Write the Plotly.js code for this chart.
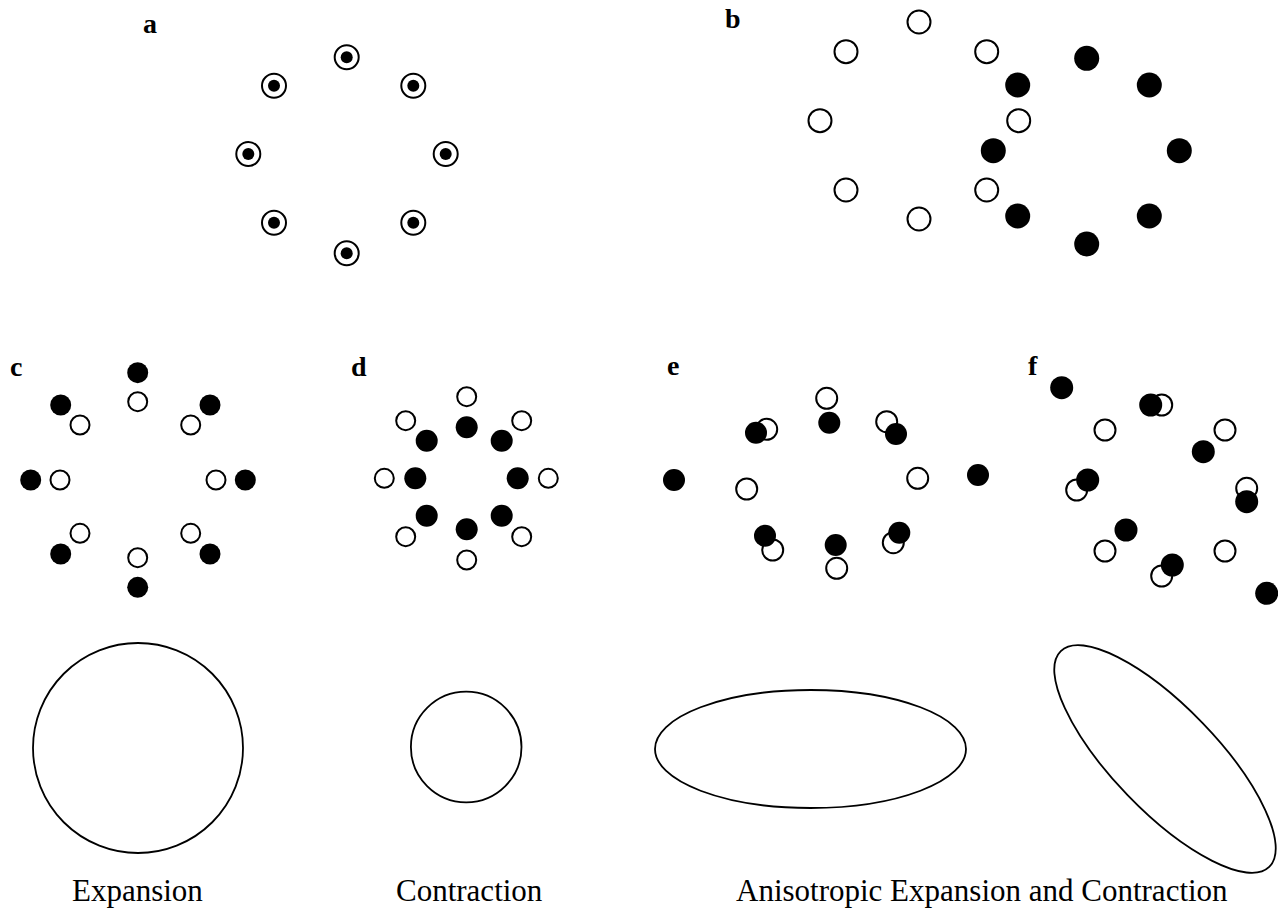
<!DOCTYPE html>
<html>
<head>
<meta charset="utf-8">
<script src="https://cdn.plot.ly/plotly-3.0.1.min.js"></script>
<style>html,body{margin:0;padding:0;background:#fff;}#chart{width:1278px;height:910px;}</style>
</head>
<body>
<div id="chart"></div>
<script>
// Panel a: coincident open rings and filled dots
const aX = [346.7, 274, 413.3, 248.3, 445.7, 274, 413.3, 346.7];
const aY = [57.3, 85.7, 85.7, 154, 154, 222.7, 222.7, 253.3];

// Panel b: translation
const bOpenX = [919, 846, 986.7, 820, 1018.7, 846, 986.7, 919];
const bOpenY = [22, 51.7, 51.7, 120.7, 120.7, 190, 190, 219];
const bFillX = [1086.7, 1017.7, 1149.3, 993.3, 1179.3, 1017.7, 1149.3, 1086.7];
const bFillY = [58.3, 85, 85, 150.7, 150.7, 216, 216, 244];

// Panel c: expansion
const cOpenX = [137.7, 80, 190.7, 60, 216, 80, 190.7, 137.7];
const cOpenY = [401.7, 425, 425, 480, 480, 533.3, 533.3, 557.7];
const cFillX = [137.7, 60.7, 210, 30.7, 245.3, 60.7, 210, 137.7];
const cFillY = [372.7, 405, 405, 480, 480, 554, 554, 587.3];

// Panel d: contraction
const dOpenX = [466.7, 405.7, 521.7, 384.3, 548.3, 405.7, 521.7, 466.7];
const dOpenY = [396.7, 420.7, 420.7, 478.3, 478.3, 536.7, 536.7, 560];
const dFillX = [466.7, 426.7, 501.7, 415.3, 517.7, 426.7, 501.7, 466.7];
const dFillY = [427.3, 440.7, 440.7, 478.3, 478.3, 515.7, 515.7, 529.3];

// Panel e: anisotropic (axis aligned)
const eOpenX = [826.7, 766.7, 886.7, 746.7, 917.7, 772.7, 893.3, 836.7];
const eOpenY = [398.3, 429.3, 421.7, 489, 478.3, 550, 542.7, 568.3];
const eFillX = [829.3, 756, 896, 674, 978, 765, 899.3, 835.7];
const eFillY = [422.7, 432.7, 434, 480, 475, 535.7, 532.7, 545];

// Panel f: anisotropic (oblique)
const fOpenX = [1161.7, 1105, 1225, 1076.7, 1246.7, 1105, 1225, 1161.7];
const fOpenY = [405, 430, 430, 490, 488.3, 551, 551, 576];
const fFillX = [1061.7, 1150.7, 1203.3, 1087.7, 1246.7, 1126, 1172.3, 1266.7];
const fFillY = [387.7, 405, 451.7, 480, 501.7, 530, 565, 593.3];

// Strain ellipses (centre, semi-axes, rotation in degrees)
const ellCx = [138, 466.2, 810.5, 1165];
const ellCy = [748, 747, 749, 759];
const ellRx = [105, 55.3, 155.5, 150];
const ellRy = [105, 55.3, 59, 52];
const ellAngle = [0, 0, 0, 46];

// Text labels
const panelLabels = ['a', 'b', 'c', 'd', 'e', 'f'];
const panelLabelX = [150, 733, 16, 359, 673, 1033];
const panelLabelY = [23, 18, 366, 366, 365, 365];
const captionText = ['Expansion', 'Contraction', 'Anisotropic Expansion and Contraction'];
const captionX = [137, 469, 982];
const captionY = [890, 890, 890];

const serif = 'Liberation Serif, Times New Roman, serif';

function openTrace(x, y, size) {
  return {x: x, y: y, type: 'scatter', mode: 'markers', hoverinfo: 'skip',
    marker: {symbol: 'circle', size: size, color: '#ffffff', line: {color: '#000000', width: 2}}};
}
function fillTrace(x, y, size) {
  return {x: x, y: y, type: 'scatter', mode: 'markers', hoverinfo: 'skip',
    marker: {symbol: 'circle', size: size, color: '#000000', line: {color: '#000000', width: 0}}};
}

const traces = [
  openTrace(aX, aY, 24), fillTrace(aX, aY, 12),
  openTrace(bOpenX, bOpenY, 23), fillTrace(bFillX, bFillY, 25),
  openTrace(cOpenX, cOpenY, 19), fillTrace(cFillX, cFillY, 21),
  openTrace(dOpenX, dOpenY, 19), fillTrace(dFillX, dFillY, 22),
  openTrace(eOpenX, eOpenY, 21), fillTrace(eFillX, eFillY, 22),
  openTrace(fOpenX, fOpenY, 21), fillTrace(fFillX, fFillY, 23)
];

function ellipseShape(cx, cy, rx, ry, deg) {
  const line = {color: '#000000', width: 1.8};
  if (deg === 0) {
    return {type: 'circle', xref: 'x', yref: 'y', x0: cx - rx, x1: cx + rx, y0: cy - ry, y1: cy + ry, line: line};
  }
  const t = deg * Math.PI / 180, k = 0.5523;
  const ux = Math.cos(t), uy = Math.sin(t), vx = -Math.sin(t), vy = Math.cos(t);
  const P = (a, b) => (cx + a * ux + b * vx).toFixed(2) + ',' + (cy + a * uy + b * vy).toFixed(2);
  const path = 'M' + P(rx, 0) +
    ' C' + P(rx, k * ry) + ' ' + P(k * rx, ry) + ' ' + P(0, ry) +
    ' C' + P(-k * rx, ry) + ' ' + P(-rx, k * ry) + ' ' + P(-rx, 0) +
    ' C' + P(-rx, -k * ry) + ' ' + P(-k * rx, -ry) + ' ' + P(0, -ry) +
    ' C' + P(k * rx, -ry) + ' ' + P(rx, -k * ry) + ' ' + P(rx, 0) + ' Z';
  return {type: 'path', xref: 'x', yref: 'y', path: path, line: line};
}
const shapes = ellCx.map((c, i) => ellipseShape(c, ellCy[i], ellRx[i], ellRy[i], ellAngle[i]));

const annotations = [];
panelLabels.forEach((t, i) => annotations.push({
  text: '<b>' + t + '</b>', x: panelLabelX[i], y: panelLabelY[i], xref: 'x', yref: 'y',
  showarrow: false, xanchor: 'center', yanchor: 'middle',
  font: {family: serif, size: 28, color: '#000000'}
}));
captionText.forEach((t, i) => annotations.push({
  text: t, x: captionX[i], y: captionY[i], xref: 'x', yref: 'y',
  showarrow: false, xanchor: 'center', yanchor: 'middle',
  font: {family: serif, size: 31, color: '#000000'}
}));

const layout = {
  width: 1278, height: 910,
  margin: {l: 0, r: 0, t: 0, b: 0, pad: 0},
  paper_bgcolor: '#ffffff', plot_bgcolor: '#ffffff',
  showlegend: false, hovermode: false,
  xaxis: {range: [0, 1278], visible: false, fixedrange: true},
  yaxis: {range: [910, 0], visible: false, fixedrange: true},
  shapes: shapes,
  annotations: annotations
};

Plotly.newPlot('chart', traces, layout, {displayModeBar: false, staticPlot: true});
</script>
</body>
</html>
